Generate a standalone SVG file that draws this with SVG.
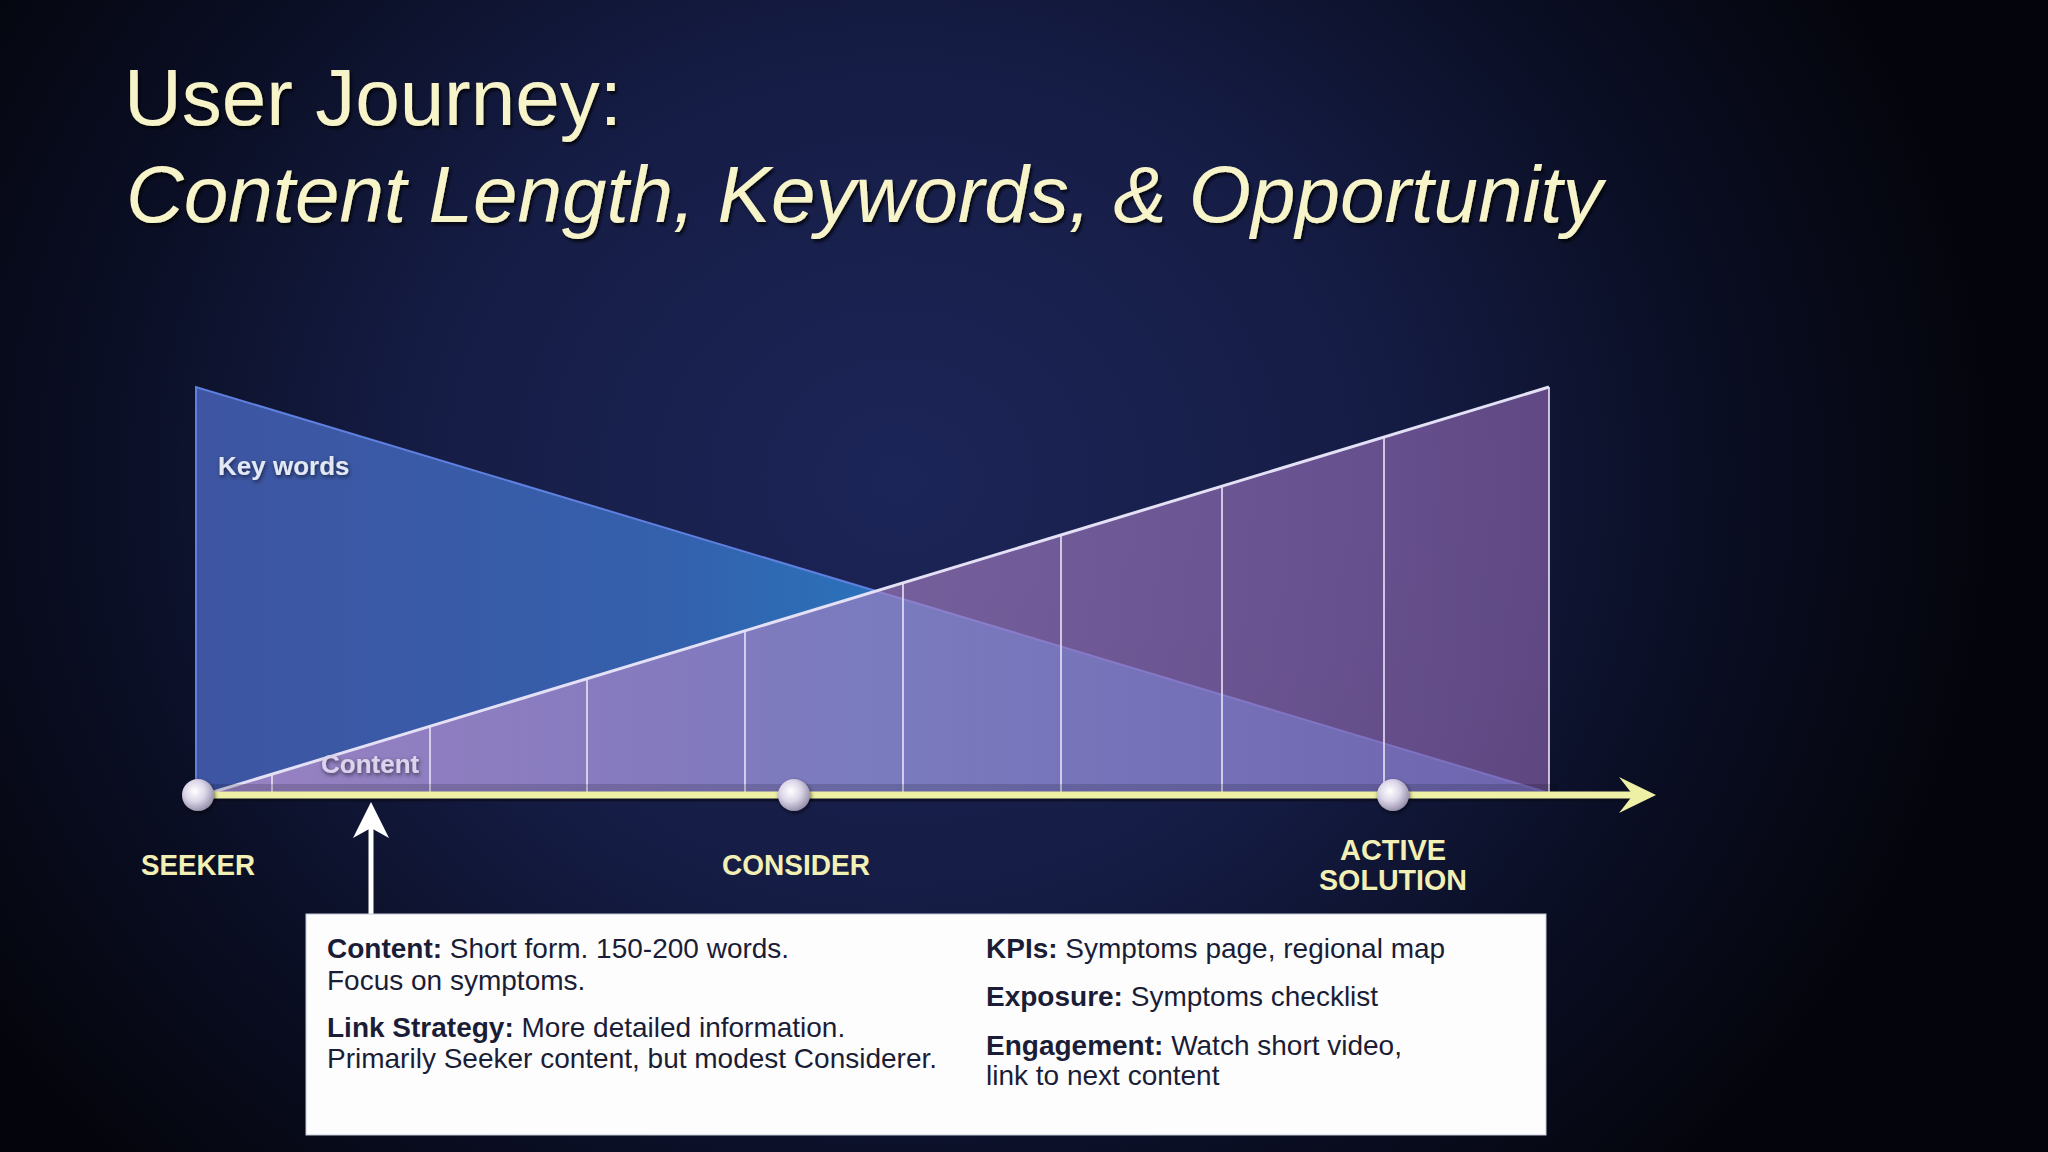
<svg xmlns="http://www.w3.org/2000/svg" width="2048" height="1152" viewBox="0 0 2048 1152">
  <defs>
    <radialGradient id="bg" cx="900" cy="480" r="1150" gradientUnits="userSpaceOnUse" gradientTransform="translate(900 480) scale(0.95 0.85) translate(-900 -480)">
      <stop offset="0" stop-color="#1c2558"/>
      <stop offset="0.45" stop-color="#151c44"/>
      <stop offset="0.72" stop-color="#0b0f26"/>
      <stop offset="1" stop-color="#04050c"/>
    </radialGradient>
    <linearGradient id="blueFill" x1="196" y1="0" x2="1549" y2="0" gradientUnits="userSpaceOnUse">
      <stop offset="0" stop-color="#3e55a2"/>
      <stop offset="0.35" stop-color="#3460ac"/>
      <stop offset="0.5" stop-color="#2a72ba"/>
      <stop offset="1" stop-color="#3a66b0"/>
    </linearGradient>
    <linearGradient id="purpleFill" x1="210" y1="0" x2="1549" y2="0" gradientUnits="userSpaceOnUse">
      <stop offset="0" stop-color="#c89ad4"/>
      <stop offset="0.45" stop-color="#a882c4"/>
      <stop offset="1" stop-color="#8a64ae"/>
    </linearGradient>
    <radialGradient id="ball" cx="0.4" cy="0.38" r="0.65">
      <stop offset="0" stop-color="#ffffff"/>
      <stop offset="0.5" stop-color="#dcd6e8"/>
      <stop offset="1" stop-color="#938ca8"/>
    </radialGradient>
    <filter id="shadow" x="-10%" y="-30%" width="120%" height="160%">
      <feDropShadow dx="2" dy="3" stdDeviation="1.5" flood-color="#000000" flood-opacity="0.7"/>
    </filter>
    <filter id="soft" x="-20%" y="-20%" width="140%" height="140%">
      <feDropShadow dx="1" dy="2" stdDeviation="2" flood-color="#000000" flood-opacity="0.6"/>
    </filter>
  </defs>
  <style>
    .title { font-family: "Liberation Sans", Arial, sans-serif; font-size: 80px; fill: #f6f4c8; }
    .stage { font-family: "Liberation Sans", Arial, sans-serif; font-size: 29px; font-weight: bold; fill: #f2f0b4; text-anchor: middle; }
    .inner { font-family: "Liberation Sans", Arial, sans-serif; font-weight: bold; }
    .box { font-family: "Liberation Sans", Arial, sans-serif; font-size: 28px; fill: #1b1d36; }
    .box .b { font-weight: bold; }
    .tick { stroke: #e2dcf2; stroke-width: 2; stroke-opacity: 0.85; }
  </style>

  <rect width="2048" height="1152" fill="url(#bg)"/>

  <g id="title" filter="url(#shadow)">
    <text class="title" x="124" y="125">User Journey:</text>
    <text class="title" x="126" y="222" font-style="italic">Content Length, Keywords, &amp; Opportunity</text>
  </g>

  <g id="keywords-triangle">
    <polygon points="196,387 196,793 1549,793" fill="url(#blueFill)" stroke="#5f80de" stroke-width="2"/>
    <text class="inner" x="218" y="475" font-size="26" fill="#e4e8f4" filter="url(#soft)">Key words</text>
  </g>

  <g id="content-triangle">
    <polygon points="210,793 1549,387 1549,793" fill="url(#purpleFill)" fill-opacity="0.65"/>
    <line class="tick" x1="272" y1="774" x2="272" y2="793"/>
    <line class="tick" x1="430" y1="726" x2="430" y2="793"/>
    <line class="tick" x1="587" y1="679" x2="587" y2="793"/>
    <line class="tick" x1="745" y1="631" x2="745" y2="793"/>
    <line class="tick" x1="903" y1="583" x2="903" y2="793"/>
    <line class="tick" x1="1061" y1="535" x2="1061" y2="793"/>
    <line class="tick" x1="1222" y1="486" x2="1222" y2="793"/>
    <line class="tick" x1="1384" y1="437" x2="1384" y2="793"/>
    <line class="tick" x1="1549" y1="387" x2="1549" y2="793"/>
    <line x1="210" y1="793" x2="1549" y2="387" stroke="#e4e0f6" stroke-width="3"/>
    <text class="inner" x="321" y="773" font-size="26" fill="#dcd4ec" filter="url(#soft)">Content</text>
  </g>

  <g id="connectors">
    <rect x="198" y="784" width="1360" height="8" fill="#000000" opacity="0.15"/>
    <line x1="198" y1="799" x2="1632" y2="799" stroke="#0a0c1c" stroke-width="5" opacity="0.7"/>
    <line x1="198" y1="795" x2="1634" y2="795" stroke="#eef0a6" stroke-width="7"/>
    <polygon points="1656,795 1619,777 1633,795 1619,813" fill="#eef0a6"/>
    <line x1="371" y1="914" x2="371" y2="826" stroke="#ffffff" stroke-width="5"/>
    <polygon points="371,802 389,838 371,828 353,838" fill="#ffffff"/>
  </g>

  <g id="seeker">
    <ellipse cx="198" cy="795" rx="16" ry="16" fill="url(#ball)" filter="url(#soft)"/>
    <text class="stage" x="198" y="875" textLength="114" lengthAdjust="spacingAndGlyphs">SEEKER</text>
  </g>
  <g id="consider">
    <ellipse cx="794" cy="795" rx="16" ry="16" fill="url(#ball)" filter="url(#soft)"/>
    <text class="stage" x="796" y="875" textLength="148" lengthAdjust="spacingAndGlyphs">CONSIDER</text>
  </g>
  <g id="active-solution">
    <ellipse cx="1393" cy="795" rx="16" ry="16" fill="url(#ball)" filter="url(#soft)"/>
    <text class="stage" x="1393" y="860" textLength="106" lengthAdjust="spacingAndGlyphs">ACTIVE</text>
    <text class="stage" x="1393" y="890" textLength="148" lengthAdjust="spacingAndGlyphs">SOLUTION</text>
  </g>

  <g id="info-box">
    <rect x="306" y="914" width="1240" height="221" fill="#fdfdfe" stroke="#c4c8d6" stroke-width="1"/>
    <text class="box" x="327" y="958"><tspan class="b">Content:</tspan> Short form. 150-200 words.</text>
    <text class="box" x="327" y="990">Focus on symptoms.</text>
    <text class="box" x="327" y="1037"><tspan class="b">Link Strategy:</tspan> More detailed information.</text>
    <text class="box" x="327" y="1068">Primarily Seeker content, but modest Considerer.</text>
    <text class="box" x="986" y="958"><tspan class="b">KPIs:</tspan> Symptoms page, regional map</text>
    <text class="box" x="986" y="1006"><tspan class="b">Exposure:</tspan> Symptoms checklist</text>
    <text class="box" x="986" y="1055"><tspan class="b">Engagement:</tspan> Watch short video,</text>
    <text class="box" x="986" y="1085">link to next content</text>
  </g>
</svg>
